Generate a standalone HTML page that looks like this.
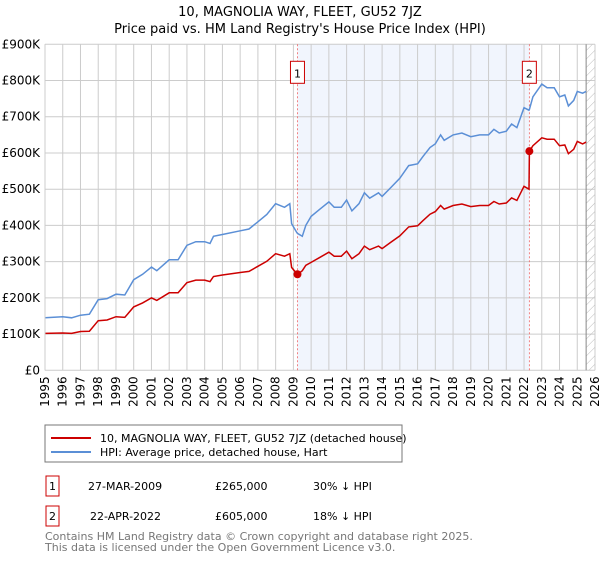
<!DOCTYPE html>
<html><head><meta charset="utf-8"><style>
body{margin:0;background:#fff;font-family:"Liberation Sans","DejaVu Sans",sans-serif;}
svg text{font-family:"DejaVu Sans","Liberation Sans",sans-serif;}
</style></head><body>
<svg id="c" width="600" height="560" xmlns="http://www.w3.org/2000/svg">
<defs><pattern id="hatch" width="6" height="6" patternUnits="userSpaceOnUse" patternTransform="rotate(45)"><line x1="0" y1="0" x2="0" y2="6" stroke="#bbb" stroke-width="1"/></pattern></defs>
<text x="300" y="16" text-anchor="middle" font-size="13">10, MAGNOLIA WAY, FLEET, GU52 7JZ</text>
<text x="300" y="33" text-anchor="middle" font-size="13">Price paid vs. HM Land Registry's House Price Index (HPI)</text>
<g id="plot"></g>
<rect x="45" y="425" width="357" height="37" fill="#fff" stroke="#777"/>
<line x1="51" y1="438" x2="91" y2="438" stroke="#cc0000" stroke-width="2"/>
<text x="100" y="442" font-size="11">10, MAGNOLIA WAY, FLEET, GU52 7JZ (detached house)</text>
<line x1="51" y1="452" x2="91" y2="452" stroke="#5b8fd6" stroke-width="2"/>
<text x="100" y="456" font-size="11">HPI: Average price, detached house, Hart</text>
<rect x="46" y="476" width="13" height="20" fill="none" stroke="#cc0000"/>
<text x="52.5" y="490" text-anchor="middle" font-size="11">1</text>
<text x="88" y="490" font-size="11">27-MAR-2009</text>
<text x="215" y="490" font-size="11">£265,000</text>
<text x="313" y="490" font-size="11">30% ↓ HPI</text>
<rect x="46" y="506" width="13" height="20" fill="none" stroke="#cc0000"/>
<text x="52.5" y="520" text-anchor="middle" font-size="11">2</text>
<text x="90" y="520" font-size="11">22-APR-2022</text>
<text x="215" y="520" font-size="11">£605,000</text>
<text x="313" y="520" font-size="11">18% ↓ HPI</text>
<text x="45" y="540" font-size="11" fill="#777">Contains HM Land Registry data © Crown copyright and database right 2025.</text>
<text x="45" y="551" font-size="11" fill="#777">This data is licensed under the Open Government Licence v3.0.</text>
</svg>
<script>
const years=[1995,1996,1996.5,1997,1997.5,1998,1998.5,1999,1999.5,2000,2000.5,2001,2001.3,2002,2002.5,2003,2003.5,2004,2004.3,2004.5,2005,2006,2006.5,2007,2007.5,2008,2008.5,2008.8,2008.9,2009.2,2009.23,2009.5,2009.7,2010,2010.5,2011,2011.3,2011.7,2012,2012.3,2012.7,2013,2013.3,2013.8,2014,2014.5,2015,2015.5,2016,2016.3,2016.7,2017,2017.3,2017.5,2018,2018.5,2019,2019.5,2020,2020.3,2020.6,2021,2021.3,2021.6,2022,2022.28,2022.3,2022.5,2023,2023.3,2023.7,2024,2024.3,2024.5,2024.8,2025,2025.3,2025.5];
const hpi=[145,148,145,152,155,195,198,210,208,250,265,285,275,305,305,345,355,355,350,370,375,385,390,410,430,460,450,460,405,380,378,370,400,425,445,465,450,450,470,440,460,490,475,490,480,505,530,565,570,590,615,625,650,635,650,655,645,650,650,665,655,660,680,670,725,718,720,755,790,780,780,755,760,730,745,770,765,770];
const price=[102,103,102,107,108,137,139,148,146,175,186,200,193,214,214,242,249,249,245,259,263,270,273,287,301,322,315,322,284,266,265,275,290,298,312,326,315,315,329,308,322,343,333,343,336,354,371,396,399,413,431,438,455,445,455,459,452,455,455,466,459,462,476,469,508,500,605,620,642,638,638,620,622,598,610,632,625,630];
const yTicks=[0,100,200,300,400,500,600,700,800,900];
const yLabels=["£0","£100K","£200K","£300K","£400K","£500K","£600K","£700K","£800K","£900K"];
const xTicks=[1995,1996,1997,1998,1999,2000,2001,2002,2003,2004,2005,2006,2007,2008,2009,2010,2011,2012,2013,2014,2015,2016,2017,2018,2019,2020,2021,2022,2023,2024,2025,2026];
const sales=[{n:"1",t:2009.23,v:265},{n:"2",t:2022.3,v:605}];
const X0=45,X1=595,Y0=370.3,Y1=44.3;
const x=t=>X0+(t-1995)/31*(X1-X0);
const y=v=>Y0-v/900*(Y0-Y1);
const NS="http://www.w3.org/2000/svg";
const g=document.getElementById('plot');
function mk(tag,at){const e=document.createElementNS(NS,tag);for(const k in at)e.setAttribute(k,at[k]);g.appendChild(e);return e;}
let e=mk('rect',{x:x(sales[0].t),y:Y1,width:x(sales[1].t)-x(sales[0].t),height:Y0-Y1,fill:'#eef3fc',opacity:0.8});


xTicks.forEach(t=>{const l=mk('line',{x1:x(t),x2:x(t),y1:Y1,y2:Y0,stroke:'#ccc'});


const tx=mk('text',{x:0,y:0,'font-size':12,'text-anchor':'end',transform:`translate(${x(t)+4},${Y0+6}) rotate(-90)`});tx.textContent=t;

});
yTicks.forEach((v,i)=>{const l=mk('line',{x1:X0,x2:X1,y1:y(v),y2:y(v),stroke:'#ccc'});


const tx=mk('text',{x:X0-5,y:y(v)+4,'font-size':12,'text-anchor':'end'});tx.textContent=yLabels[i];

});
e=mk('rect',{x:x(2025.5),y:Y1,width:X1-x(2025.5),height:Y0-Y1,fill:'url(#hatch)'});


e=mk('line',{x1:x(2025.5),x2:x(2025.5),y1:Y1,y2:Y0,stroke:'#888'});


sales.forEach(s=>{const l=mk('line',{x1:x(s.t),x2:x(s.t),y1:Y1,y2:Y0,stroke:'#e66','stroke-dasharray':'2,2','stroke-width':0.8});


const r=mk('rect',{x:x(s.t)-7,y:y(s.t<2010?833:833)-10+0,width:14,height:22,fill:'#fff',stroke:'#cc0000'});
r.setAttribute('y',Y1+17);


const tx=mk('text',{x:x(s.t),y:Y1+33,'font-size':11,'text-anchor':'middle'});tx.textContent=s.n;

});
const pts=a=>years.map((t,i)=>x(t).toFixed(1)+','+y(a[i]).toFixed(1)).join(' ');
e=mk('polyline',{points:pts(hpi),fill:'none',stroke:'#5b8fd6','stroke-width':1.5});


e=mk('polyline',{points:pts(price),fill:'none',stroke:'#cc0000','stroke-width':1.5});


sales.forEach(s=>{const c=mk('circle',{cx:x(s.t),cy:y(s.v),r:4,fill:'#cc0000'});

});
e=mk('line',{x1:X0,x2:X0,y1:Y1,y2:Y0,stroke:'#ccc'});
</script>
</body></html>
